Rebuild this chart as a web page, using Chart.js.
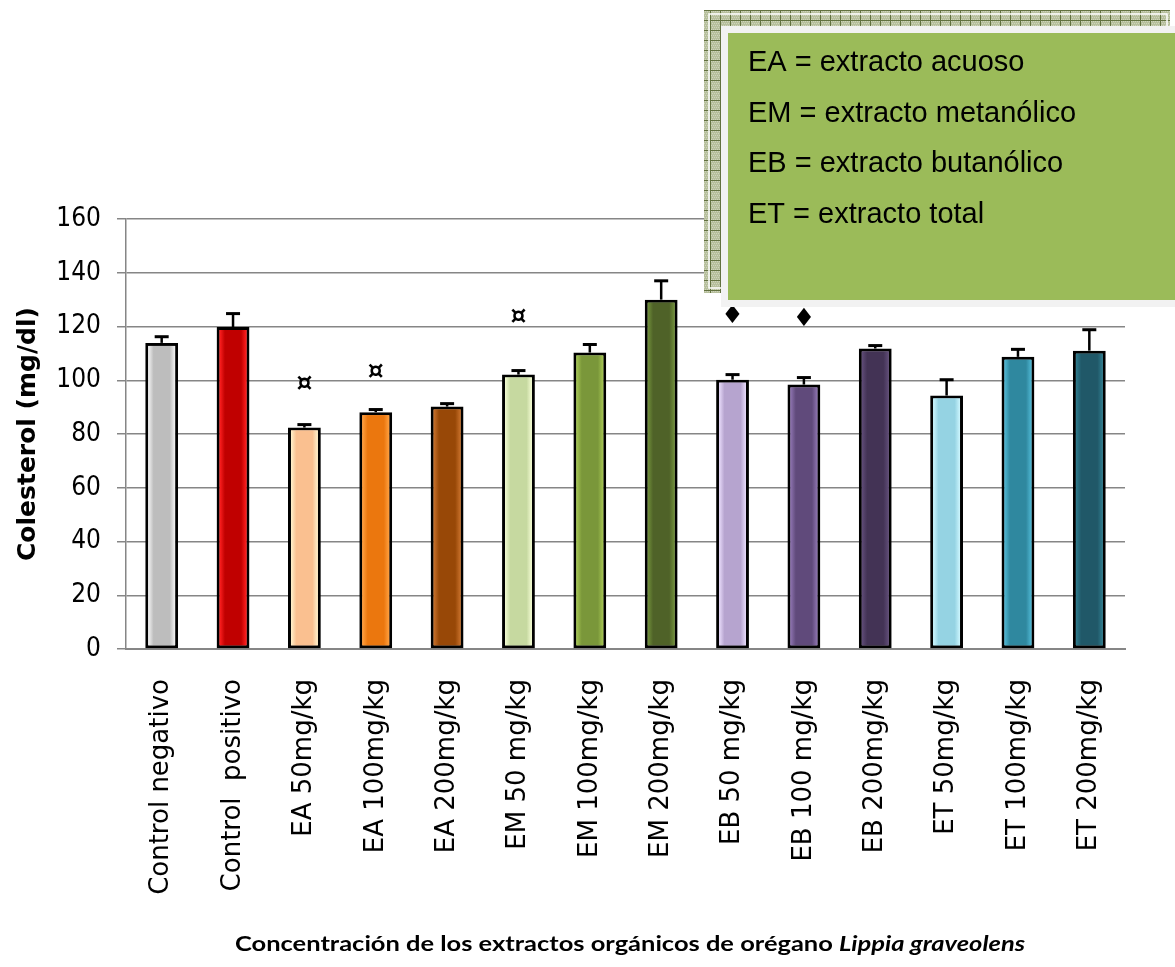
<!DOCTYPE html>
<html>
<head>
<meta charset="utf-8">
<script src="https://cdn.jsdelivr.net/npm/chart.js@4/dist/chart.umd.min.js"></script>
<style>
  html, body { margin: 0; padding: 0; background: #ffffff; }
  #wrap { position: relative; width: 1175px; height: 967px; overflow: hidden; }
</style>
</head>
<body>
<div id="wrap"><canvas id="chart" width="1175" height="967"></canvas></div>
<script>
// Grupos de tratamiento
const categories = [
  'Control negativo', 'Control  positivo',
  'EA 50mg/kg', 'EA 100mg/kg', 'EA 200mg/kg',
  'EM 50 mg/kg', 'EM 100mg/kg', 'EM 200mg/kg',
  'EB 50 mg/kg', 'EB 100 mg/kg', 'EB 200mg/kg',
  'ET 50mg/kg', 'ET 100mg/kg', 'ET 200mg/kg'
];

// Colesterol medio (mg/dl) y error de cada grupo
const colesterol = [113.9, 119.8, 82.4, 88.1, 90.2, 102.1, 110.3, 130.0, 100.2, 98.4, 111.8, 94.3, 108.7, 111.0];
const errores    = [2.3, 5.0, 1.1, 1.0, 1.1, 1.5, 3.0, 7.0, 1.9, 2.6, 1.1, 5.9, 2.8, 7.8];

// Marcas de significancia y nivel (mg/dl) donde se rotulan
const marcas      = ['', '', '¤', '¤', '', '¤', '', '', '♦', '♦', '', '', '', ''];
const nivelMarcas = [null, null, 98.5, 102.8, null, 123.5, null, null, 123.6, 122.6, null, null, null, null];

// Escala del eje Y
const yMin = 0, yMax = 160, yStep = 20;

// Leyenda de abreviaturas
const leyenda = [
  'EA = extracto acuoso',
  'EM = extracto metanólico',
  'EB = extracto butanólico',
  'ET = extracto total'
];

const tituloY = 'Colesterol (mg/dl)';
const tituloX = 'Concentración de los extractos orgánicos de orégano ';
const tituloXItalica = 'Lippia graveolens';

// Colores de relleno: tono base y brillo de los bordes
const colorBase = ['#bdbdbd', '#c00000', '#fac090', '#eb770e', '#984807', '#c6d9a0', '#7a973a', '#4f6228',
                   '#b6a4cf', '#604a7b', '#433355', '#95d3e3', '#2f889f', '#205868'];
const colorBrillo = ['#f4f4f4', '#ff2020', '#fff2cc', '#ffa040', '#c8702a', '#f4fcd4', '#a6c652', '#71903a',
                     '#e8dcfa', '#8e74b0', '#604c78', '#cdf6fe', '#4fb8d4', '#2f7c8e'];

const BAR_FRACTION = 0.46;
const BORDE = 3;

// Relleno con brillo lateral, dibujado dentro del contorno de cada barra
const brilloPlugin = {
  id: 'brillo',
  afterDatasetDraw(chart) {
    const ctx = chart.ctx;
    const meta = chart.getDatasetMeta(0);
    ctx.save();
    meta.data.forEach((bar, i) => {
      const w = bar.width - 2 * BORDE;
      const left = bar.x - w / 2;
      const top = bar.y + BORDE;
      const h = bar.base - BORDE - top;
      const g = ctx.createLinearGradient(left, 0, left + w, 0);
      g.addColorStop(0, colorBrillo[i]);
      g.addColorStop(0.2, colorBase[i]);
      g.addColorStop(0.8, colorBase[i]);
      g.addColorStop(1, colorBrillo[i]);
      ctx.fillStyle = g;
      ctx.fillRect(left, top, w, h);
    });
    ctx.restore();
  }
};

// Barras de error
const erroresPlugin = {
  id: 'errores',
  afterDatasetsDraw(chart) {
    const { ctx, scales: { y } } = chart;
    const meta = chart.getDatasetMeta(0);
    ctx.save();
    ctx.strokeStyle = '#000';
    meta.data.forEach((bar, i) => {
      const top = y.getPixelForValue(colesterol[i]);
      const tip = y.getPixelForValue(colesterol[i] + errores[i]);
      ctx.lineWidth = 2.5;
      ctx.beginPath();
      ctx.moveTo(bar.x, top);
      ctx.lineTo(bar.x, tip);
      ctx.stroke();
      ctx.lineWidth = 3;
      ctx.beginPath();
      ctx.moveTo(bar.x - 7, tip);
      ctx.lineTo(bar.x + 7, tip);
      ctx.stroke();
    });
    ctx.restore();
  }
};

// Símbolos de significancia
const marcasPlugin = {
  id: 'marcas',
  afterDatasetsDraw(chart) {
    const { ctx, scales: { x, y } } = chart;
    ctx.save();
    ctx.fillStyle = '#000';
    ctx.textAlign = 'center';
    ctx.textBaseline = 'middle';
    marcas.forEach((m, i) => {
      if (!m) return;
      ctx.font = m === '¤' ? 'bold 25px "DejaVu Sans"' : '25px "DejaVu Sans"';
      ctx.fillText(m, x.getPixelForValue(i), y.getPixelForValue(nivelMarcas[i]));
    });
    ctx.restore();
  }
};

// Título del eje X con el nombre científico en cursiva
const tituloXPlugin = {
  id: 'tituloX',
  afterDraw(chart) {
    const ctx = chart.ctx;
    ctx.save();
    const f1 = 'bold 21px Lato, "Open Sans", sans-serif';
    const f2 = 'italic bold 21px Lato, "Open Sans", sans-serif';
    ctx.font = f1;
    const w1 = ctx.measureText(tituloX).width;
    ctx.font = f2;
    const w2 = ctx.measureText(tituloXItalica).width;
    const target = 790;
    const sx = target / (w1 + w2);
    const cx = 630, baseY = 951;
    ctx.translate(cx - target / 2, baseY);
    ctx.scale(sx, 1);
    ctx.fillStyle = '#000';
    ctx.textBaseline = 'alphabetic';
    ctx.textAlign = 'left';
    ctx.font = f1;
    ctx.fillText(tituloX, 0, 0);
    ctx.font = f2;
    ctx.fillText(tituloXItalica, w1, 0);
    ctx.restore();
  }
};

// Recuadro de abreviaturas, sobre el gráfico
const leyendaPlugin = {
  id: 'leyendaCaja',
  afterDraw(chart) {
    const ctx = chart.ctx;
    ctx.save();
    // fondo reticulado
    const p = document.createElement('canvas');
    p.width = 10; p.height = 10;
    const pc = p.getContext('2d');
    pc.fillStyle = '#b6bf9c';
    pc.fillRect(0, 0, 10, 10);
    pc.fillStyle = '#cfd4bc';
    for (let b = 1; b < 10; b += 2) {
      for (let a = 1 + (b % 4 === 1 ? 0 : 1); a < 10; a += 2) {
        pc.fillRect(a, b, 1, 1);
      }
    }
    pc.fillStyle = '#62713f';
    pc.fillRect(0, 0, 10, 1);
    pc.fillRect(0, 0, 1, 10);
    ctx.fillStyle = ctx.createPattern(p, 'repeat');
    ctx.fillRect(704, 10, 466, 283);
    ctx.strokeStyle = '#ffffff';
    ctx.lineWidth = 1.5;
    ctx.strokeRect(709, 14, 458, 274);
    // marco claro y caja verde
    ctx.fillStyle = '#f2f2f2';
    ctx.fillRect(721, 26, 460, 281);
    ctx.fillStyle = '#9bbb59';
    ctx.fillRect(728, 33, 450, 267);
    ctx.fillStyle = '#000';
    ctx.font = '29px "Liberation Sans", Arial, sans-serif';
    ctx.textAlign = 'left';
    ctx.textBaseline = 'alphabetic';
    leyenda.forEach((t, k) => ctx.fillText(t, 748, 71 + k * 50.5));
    ctx.restore();
  }
};

new Chart(document.getElementById('chart'), {
  type: 'bar',
  data: {
    labels: categories,
    datasets: [{
      data: colesterol,
      backgroundColor: colorBase,
      borderColor: '#000000',
      borderWidth: BORDE,
      borderSkipped: false,
      categoryPercentage: 1,
      barPercentage: BAR_FRACTION
    }]
  },
  options: {
    responsive: false,
    animation: false,
    devicePixelRatio: 1,
    layout: { padding: { top: 219, right: 50, left: 0, bottom: 0 } },
    plugins: { legend: { display: false }, tooltip: { enabled: false } },
    scales: {
      x: {
        grid: { display: false },
        border: { display: true, color: '#868686', width: 2 },
        ticks: {
          color: '#000',
          font: { family: 'DejaVu Sans', size: 26 },
          minRotation: 90, maxRotation: 90,
          autoSkip: false,
          padding: 22
        },
        afterFit(scale) { scale.height = 318; }
      },
      y: {
        min: yMin, max: yMax,
        grid: { color: '#868686', lineWidth: 1.5, tickLength: 9, tickColor: '#868686' },
        border: { display: true, color: '#868686', width: 1.5 },
        ticks: {
          stepSize: yStep,
          color: '#000',
          font: { family: '"Liberation Sans Narrow", "DejaVu Sans Condensed", sans-serif', size: 26 },
          padding: 16
        },
        title: {
          display: true,
          text: tituloY,
          color: '#000',
          font: { family: 'DejaVu Sans', size: 25, weight: 'bold', lineHeight: 1.95 }
        },
        afterFit(scale) { scale.width = 126; }
      }
    }
  },
  plugins: [brilloPlugin, erroresPlugin, marcasPlugin, tituloXPlugin, leyendaPlugin]
});
</script>
</body>
</html>
